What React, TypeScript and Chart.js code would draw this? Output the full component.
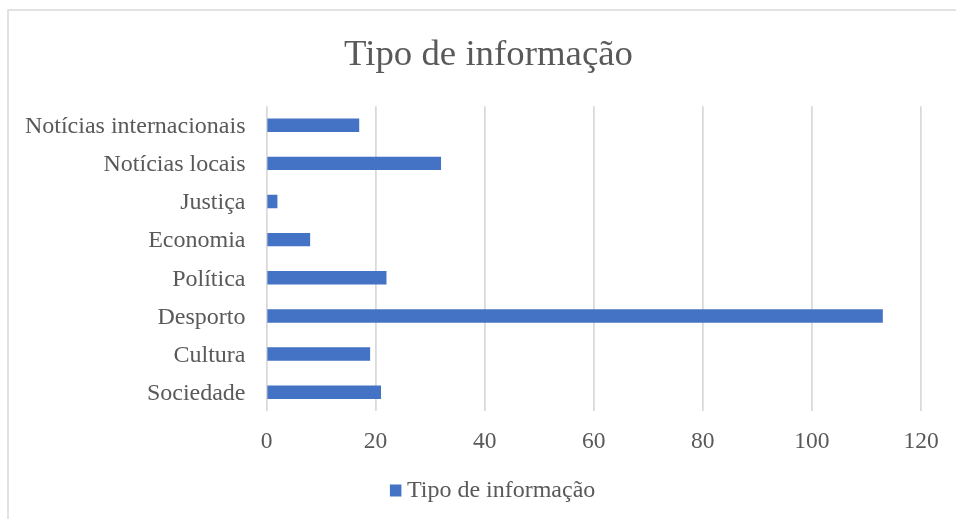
import React, { useEffect, useRef } from "react";
import { Chart, registerables } from "chart.js";

Chart.register(...registerables);

const chartTitle = "Tipo de informação";
const seriesLabel = "Tipo de informação";
const categories = [
  "Notícias internacionais",
  "Notícias locais",
  "Justiça",
  "Economia",
  "Política",
  "Desporto",
  "Cultura",
  "Sociedade",
];
const values = [17, 32, 2, 8, 22, 113, 19, 21];
const xTicks = [0, 20, 40, 60, 80, 100, 120];

const FONT = '"Liberation Serif", "Times New Roman", serif';
const TEXT = "#595959";
const GRID = "#d9d9d9";
const BAR = "#4472C4";

const framePlugin = {
  id: "frame",
  beforeDraw(chart: any) {
    const ctx = chart.ctx;
    ctx.save();
    ctx.fillStyle = "#ffffff";
    ctx.fillRect(0, 0, chart.width, chart.height);
    ctx.strokeStyle = GRID;
    ctx.lineWidth = 1.5;
    ctx.strokeRect(8, 10, 2000, 2000);
    ctx.restore();
  },
};

const titlePlugin = {
  id: "customTitle",
  afterDraw(chart: any) {
    const ctx = chart.ctx;
    ctx.save();
    ctx.font = `36.8px ${FONT}`;
    ctx.fillStyle = TEXT;
    ctx.textAlign = "center";
    ctx.textBaseline = "alphabetic";
    ctx.fillText(chartTitle, 488.5, 64.5);
    ctx.restore();
  },
};

const legendPlugin = {
  id: "customLegend",
  afterDraw(chart: any) {
    const ctx = chart.ctx;
    const ds = chart.data.datasets[0];
    ctx.save();
    ctx.font = `24px ${FONT}`;
    const w = ctx.measureText(ds.label).width;
    const box = 11.5;
    const gap = 5.5;
    const total = box + gap + w;
    const cx = 492.6;
    const x0 = cx - total / 2;
    const cy = 490.5;
    ctx.fillStyle = ds.backgroundColor;
    ctx.fillRect(x0, cy - 6, box, 12);
    ctx.fillStyle = TEXT;
    ctx.textBaseline = "middle";
    ctx.textAlign = "left";
    ctx.fillText(ds.label, x0 + box + gap, cy);
    ctx.restore();
  },
};

export default function App() {
  const ref = useRef<HTMLCanvasElement | null>(null);

  useEffect(() => {
    if (!ref.current) return;
    const chart = new Chart(ref.current, {
      type: "bar",
      data: {
        labels: categories,
        datasets: [
          {
            label: seriesLabel,
            data: values,
            backgroundColor: BAR,
            barPercentage: 0.352,
            categoryPercentage: 1,
          },
        ],
      },
      options: {
        indexAxis: "y",
        responsive: false,
        animation: false,
        layout: { padding: { top: 106.2, right: 56, bottom: 57.75, left: 0 } },
        plugins: {
          legend: { display: false },
          tooltip: { enabled: false },
          title: { display: false },
        },
        scales: {
          x: {
            type: "linear",
            position: "bottom",
            min: 0,
            max: 120,
            afterBuildTicks: (s: any) => {
              s.ticks = xTicks.map((v) => ({ value: v }));
            },
            ticks: {
              color: TEXT,
              font: { family: FONT, size: 23.5 },
              padding: 16,
            },
            grid: { color: GRID, lineWidth: 1.75, drawTicks: false },
            border: { display: false },
            afterFit: (s: any) => {
              s.height = 50;
            },
          },
          y: {
            type: "category",
            grid: { display: false, drawTicks: false },
            border: { display: false },
            ticks: {
              color: TEXT,
              font: { family: FONT, size: 24 },
              padding: 21,
              labelOffset: 1.5,
            },
            afterFit: (s: any) => {
              s.width = 266.5;
            },
          },
        },
      },
      plugins: [framePlugin, titlePlugin, legendPlugin],
    });
    return () => chart.destroy();
  }, []);

  return (
    <div
      style={{
        position: "absolute",
        left: 0,
        top: 0,
        width: 956,
        height: 519,
        overflow: "hidden",
        background: "#fff",
      }}
    >
      <canvas ref={ref} width={977} height={519} style={{ display: "block" }} />
    </div>
  );
}
